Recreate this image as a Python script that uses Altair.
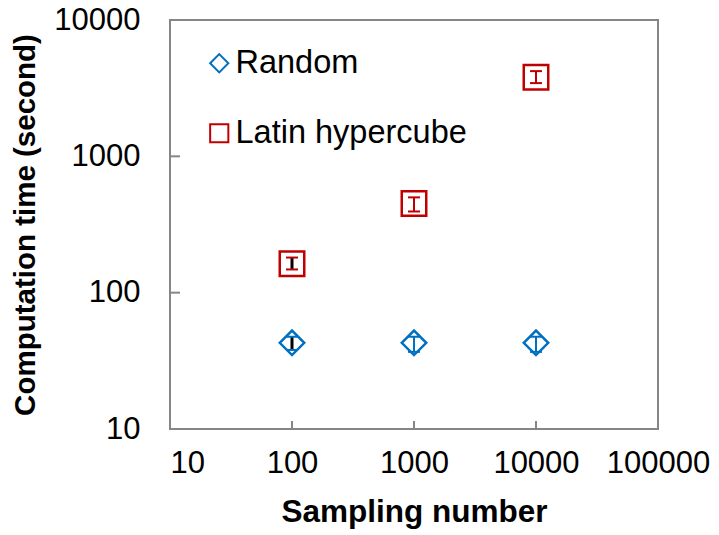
import altair as alt
import pandas as pd

# Sampling numbers and measured computation times (seconds)
sampling = [100, 1000, 10000]
random_time = [42.9, 42.9, 42.9]
random_low = [38.0, 36.8, 36.8]
random_high = [47.5, 47.5, 47.5]
latin_time = [163, 450, 3810]
latin_low = [148, 394, 3444]
latin_high = [181, 500, 4217]

series_names = ["Random", "Latin hypercube"]
x_ticks = [10, 100, 1000, 10000, 100000]
y_ticks = [10, 100, 1000, 10000]

BLUE = "#0070C0"
RED = "#C00000"
GRAY = "#868686"
FONT = "Liberation Sans"
W, H = 488, 409

rows = []
for n, t, lo, hi in zip(sampling, random_time, random_low, random_high):
    rows.append({"series": "Random", "n": n, "t": t, "lo": lo, "hi": hi})
for n, t, lo, hi in zip(sampling, latin_time, latin_low, latin_high):
    rows.append({"series": "Latin hypercube", "n": n, "t": t, "lo": lo, "hi": hi})
df = pd.DataFrame(rows)

x_scale = alt.Scale(type="log", domain=[x_ticks[0], x_ticks[-1]], nice=False)
y_scale = alt.Scale(type="log", domain=[y_ticks[0], y_ticks[-1]], nice=False)

x_axis = alt.Axis(
    values=x_ticks, format="d", title="Sampling number", grid=False, ticks=False,
    tickSize=0, domain=False, labelFontSize=31, labelPadding=19, labelFlush=False,
    labelOverlap=False, labelAlign={"condition": {"test": "datum.value <= 10", "value": "left"}, "value": "center"},
    titleFontSize=31.5, titleFontWeight="bold", titlePadding=18,
)
y_axis = alt.Axis(
    values=y_ticks, format="d", title="Computation time (second)", grid=False, ticks=False,
    tickSize=0, domain=False, labelFontSize=31, labelPadding=30, labelFlush=False,
    labelOverlap=False, titleFontSize=29.5, titleFontWeight="bold", titlePadding=13,
)


def xenc(field="n"):
    return alt.X(f"{field}:Q", scale=x_scale, axis=x_axis)


def yenc(field="t"):
    return alt.Y(f"{field}:Q", scale=y_scale, axis=y_axis)


legend = alt.Legend(
    title=None, orient="none", legendX=33, legendY=27, direction="vertical",
    labelFontSize=32.5, labelFont=FONT, labelColor="black", symbolSize=330,
    symbolStrokeWidth=2, rowPadding=37, labelOffset=0, padding=0, labelLimit=0,
)

points = alt.Chart(df).mark_point(filled=False, strokeWidth=2.5, size=600, opacity=1).encode(
    x=xenc(), y=yenc(),
    color=alt.Color("series:N", scale=alt.Scale(domain=series_names, range=[BLUE, RED]), legend=legend),
    shape=alt.Shape("series:N", scale=alt.Scale(domain=series_names, range=["diamond", "square"]), legend=legend),
)

layers = [points]
for name, col in [("Random", BLUE), ("Latin hypercube", RED)]:
    sub = alt.Chart(df).transform_filter(alt.datum.series == name)
    # vertical error bar: black and heavier at the smallest sampling number
    layers.append(
        sub.transform_filter(alt.datum.n == 100).mark_rule(color="black", strokeWidth=3).encode(
            x=xenc(), y=yenc("lo"), y2="hi:Q")
    )
    layers.append(
        sub.transform_filter(alt.datum.n != 100).mark_rule(color=col, strokeWidth=2).encode(
            x=xenc(), y=yenc("lo"), y2="hi:Q")
    )
    for end in ["lo", "hi"]:
        layers.append(
            sub.mark_tick(orient="horizontal", color=col, size=12, thickness=2, opacity=1).encode(
                x=xenc(), y=yenc(end))
        )

# inward tick marks on the frame
x_inner = pd.DataFrame({"n": x_ticks[1:-1]})
y_inner = pd.DataFrame({"t": y_ticks[1:-1]})
layers.append(
    alt.Chart(x_inner).mark_rule(color=GRAY, strokeWidth=2).encode(
        x=xenc(), y=alt.value(H), y2=alt.value(H - 8))
)
layers.append(
    alt.Chart(y_inner).mark_rule(color=GRAY, strokeWidth=2).encode(
        y=yenc(), x=alt.value(0), x2=alt.value(10))
)

chart = (
    alt.layer(*layers)
    .properties(
        width=W, height=H, autosize="none",
        padding={"left": 170, "top": 20, "right": 61, "bottom": 106},
        background="white",
    )
    .configure_view(stroke=GRAY, strokeWidth=2)
    .configure_axis(labelFont=FONT, titleFont=FONT, labelColor="black", titleColor="black")
)

chart.save("out.html", embed_options={"renderer": "svg", "actions": False})
